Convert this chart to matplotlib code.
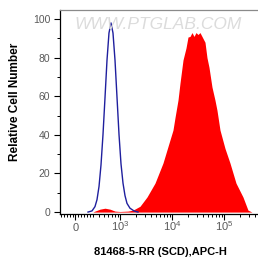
# Flow cytometry overlay: isotype control (blue line) vs stained sample (red fill)
import matplotlib
matplotlib.use("Agg")
import matplotlib.pyplot as plt

# ---------- DATA ----------
control_x = [217, 286, 330, 361, 395, 431, 471, 515, 562, 614, 671, 733, 802,
             876, 957, 1045, 1142, 1248, 1363, 1556, 1858, 2218]
control_y = [0, 0.6, 2.8, 6.4, 13.3, 24.4, 40.2, 59.4, 78.6, 92.8, 98, 92.8, 78.6,
             59.4, 40.2, 25, 15, 8.5, 4.5, 2, 0.6, 0]

sample_x = [-268, 300, 330, 412, 515, 643, 802, 1000, 1425, 1778, 2425, 3305, 4710,
            6710, 8380, 10450, 11430, 13040, 14250, 16290, 18590, 20320, 22200,
            24260, 26500, 28960, 31620, 34540, 37740, 41230, 43130, 47100, 51490,
            58750, 67100, 73300, 83800, 104500, 130400, 170200, 231800, 289400,
            345400, 451000]
sample_y = [0, 0, 0.5, 1.5, 2, 1.5, 0.5, 0.3, 0.5, 1, 3, 7.8, 15,
            25.4, 34, 42.5, 49, 58, 66.8, 78.8, 85, 90.7, 91,
            93, 91, 93, 92, 93, 91, 89, 88, 80, 75,
            64.8, 58, 52.8, 42.5, 33, 25.4, 15, 7.8, 1,
            0, 0]

x_major = [0, 1000, 10000, 100000]
x_major_labels = ["$0$", "$10^{3}$", "$10^{4}$", "$10^{5}$"]
x_minor = [-250, -200, -150, -100, -50, 50, 100, 150, 200, 250,
           300, 400, 500, 600, 700, 800, 900,
           2000, 3000, 4000, 5000, 6000, 7000, 8000, 9000,
           20000, 30000, 40000, 50000, 60000, 70000, 80000, 90000,
           200000, 300000, 400000]

# ---------- CONFIG ----------
plt.rcParams["font.family"] = ["Liberation Sans", "DejaVu Sans"]
plt.rcParams["mathtext.fontset"] = "custom"
plt.rcParams["mathtext.rm"] = "Liberation Sans"
plt.rcParams["mathtext.default"] = "regular"
blue = "#1f1f9e"
red = "#ff0000"
grey_txt = "#5a5a5a"

fig = plt.figure(figsize=(2.58, 2.62), dpi=100)
ax = fig.add_axes([60 / 258, 48 / 262, 198 / 258, 204 / 262])

ax.fill_between(sample_x, sample_y, 0, color=red, linewidth=0, zorder=2)
ax.plot(control_x, control_y, color=blue, linewidth=1.0, zorder=3)

ax.set_xscale("symlog", linthresh=300, linscale=0.3)
ax.set_xlim(-268, 451000)
ax.set_ylim(-1, 104.7)

ax.set_xticks(x_major)
ax.set_xticklabels(x_major_labels)
ax.set_xticks(x_minor, minor=True)
ax.set_yticks([0, 20, 40, 60, 80, 100])
ax.set_yticks(range(10, 100, 20), minor=True)

ax.tick_params(which="major", length=4, width=0.8, color="black",
               labelsize=7.5, labelcolor=grey_txt, pad=3)
ax.tick_params(which="minor", length=2.5, width=0.7, color="black")
ax.tick_params(axis="x", which="major", pad=8, labelsize=8)
for lab in ax.get_xticklabels():
    lab.set_verticalalignment("baseline")

for side in ["left", "bottom"]:
    ax.spines[side].set_color("black")
    ax.spines[side].set_linewidth(0.9)
ax.spines["top"].set_color("#8a8a8a")
ax.spines["top"].set_linewidth(0.9)
ax.spines["right"].set_visible(False)

fig.text(0.612, 0.905, "WWW.PTGLAB.COM", fontsize=12.5, style="italic",
         color="#dcdcdc", ha="center", va="center", zorder=0)

fig.text(0.058, 0.61, "Relative Cell Number", rotation=90, fontsize=8.5,
         fontweight="bold", ha="center", va="center")
fig.text(0.62, 0.038, "81468-5-RR (SCD),APC-H", fontsize=8,
         fontweight="bold", ha="center", va="center")

fig.savefig("out.png", dpi=100)
